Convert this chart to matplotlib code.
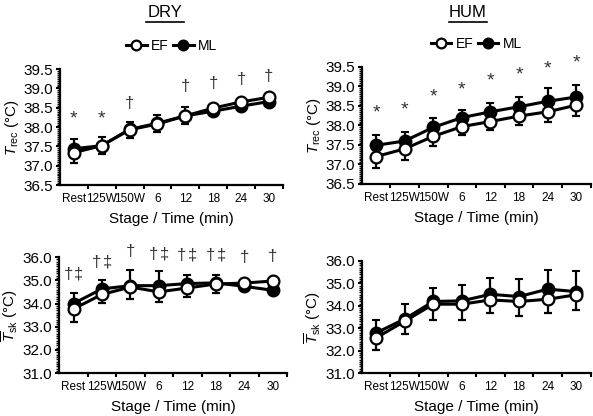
import numpy as np
import matplotlib
matplotlib.use("Agg")
import matplotlib.pyplot as plt
from matplotlib.ticker import MultipleLocator, FixedLocator
from matplotlib.lines import Line2D

plt.rcParams['font.family'] = ['Liberation Sans', 'DejaVu Sans']
plt.rcParams['mathtext.fontset'] = 'custom'
plt.rcParams['mathtext.rm'] = 'Liberation Sans'
plt.rcParams['mathtext.it'] = 'Liberation Sans:italic'

stages = ["Rest", "125W", "150W", "6", "12", "18", "24", "30"]

# rectal temperature, DRY
dry_trec_ef = [37.34, 37.52, 37.93, 38.08, 38.29, 38.49, 38.65, 38.77]
dry_trec_ef_sd = [0.28, 0.22, 0.22, 0.2, 0.2, 0.08, 0.08, 0.08]
dry_trec_ml = [37.44, 37.52, 37.94, 38.1, 38.29, 38.41, 38.54, 38.66]
dry_trec_ml_sd = [0.24, 0.22, 0.2, 0.2, 0.22, 0.1, 0.1, 0.1]

# rectal temperature, HUM
hum_trec_ef = [37.2, 37.4, 37.72, 37.97, 38.1, 38.24, 38.35, 38.52]
hum_trec_ef_sd = [0.3, 0.28, 0.25, 0.22, 0.22, 0.24, 0.25, 0.28]
hum_trec_ml = [37.49, 37.6, 37.95, 38.2, 38.35, 38.48, 38.62, 38.73]
hum_trec_ml_sd = [0.27, 0.23, 0.23, 0.2, 0.23, 0.25, 0.33, 0.3]

# mean skin temperature, DRY
dry_tsk_ef = [33.77, 34.39, 34.71, 34.5, 34.67, 34.84, 34.88, 34.97]
dry_tsk_ef_sd = [0.57, 0.36, 0.5, 0.45, 0.4, 0.4, 0.25, 0.2]
dry_tsk_ml = [34.0, 34.63, 34.77, 34.77, 34.86, 34.89, 34.74, 34.57]
dry_tsk_ml_sd = [0.46, 0.37, 0.69, 0.62, 0.38, 0.35, 0.3, 0.2]

# mean skin temperature, HUM
hum_tsk_ef = [32.57, 33.31, 34.07, 34.07, 34.26, 34.19, 34.29, 34.49]
hum_tsk_ef_sd = [0.54, 0.55, 0.69, 0.69, 0.58, 0.66, 0.61, 0.67]
hum_tsk_ml = [32.79, 33.41, 34.19, 34.22, 34.51, 34.41, 34.74, 34.63]
hum_tsk_ml_sd = [0.59, 0.68, 0.59, 0.71, 0.71, 0.77, 0.85, 0.91]

# significance marks: (stage index, symbols, y)
dry_trec_marks = [(0, "*", 38.22), (1, "*", 38.22), (2, "†", 38.62), (4, "†", 39.05),
                  (5, "†", 39.12), (6, "†", 39.22), (7, "†", 39.32)]
hum_trec_marks = [(0, "*", 38.31), (1, "*", 38.4), (2, "*", 38.74), (3, "*", 38.92),
                  (4, "*", 39.13), (5, "*", 39.29), (6, "*", 39.46), (7, "*", 39.6)]
dry_tsk_marks = [(0, "†‡", 35.25), (1, "†‡", 35.78), (2, "†", 36.22), (3, "†‡", 36.12),
                 (4, "†‡", 36.08), (5, "†‡", 36.08), (6, "†", 35.98), (7, "†", 36.03)]

x = np.arange(len(stages))
mark_col = "#333333"


def draw_panel(ax, ef, ef_sd, ml, ml_sd, ylim, major, minor, ylabel, marks):
    zeros = np.zeros(len(ef))
    ax.errorbar(x, ml, yerr=[zeros, ml_sd], fmt="-o", color="black", mfc="black",
                mec="black", ms=8.5, mew=1.5, lw=2.2, capsize=3, elinewidth=1.6,
                capthick=1.6, zorder=3)
    ax.errorbar(x, ef, yerr=[ef_sd, zeros], fmt="-o", color="black", mfc="white",
                mec="black", ms=8.5, mew=1.6, lw=2.2, capsize=3, elinewidth=1.6,
                capthick=1.6, zorder=4)
    ax.set_xlim(-0.5, 7.5)
    ax.set_ylim(*ylim)
    ax.yaxis.set_major_locator(MultipleLocator(major))
    ax.yaxis.set_minor_locator(MultipleLocator(minor))
    ax.set_yticklabels([f"{v:.1f}" for v in ax.get_yticks()])
    ax.set_xticks(x)
    ax.set_xticklabels(stages)
    ax.xaxis.set_minor_locator(FixedLocator(np.arange(0.5, 8, 1)))
    ax.tick_params(axis="x", which="major", length=0, labelsize=8.5, pad=6)
    ax.tick_params(axis="x", which="minor", length=3, width=1.5)
    ax.tick_params(axis="y", which="major", length=3, width=1.5, labelsize=11, pad=2)
    ax.tick_params(axis="y", which="minor", length=2, width=1)
    for s in ["top", "right"]:
        ax.spines[s].set_visible(False)
    for s in ["left", "bottom"]:
        ax.spines[s].set_linewidth(1.6)
    ax.set_xlabel("Stage / Time (min)", fontsize=11, labelpad=5)
    ax.set_ylabel(ylabel, fontsize=11)
    w_px = ax.get_position().width * fig.get_figwidth() * fig.dpi
    ax.yaxis.set_label_coords(-39.0 / w_px, 0.5)
    for i, sym, yv in marks:
        if len(sym) == 1:
            ax.text(i, yv, sym, ha="center", va="center",
                    fontsize=14 if sym == "*" else 12, color=mark_col, clip_on=False)
        else:
            ax.text(i - 0.19, yv, sym[0], ha="center", va="center", fontsize=12,
                    color=mark_col, clip_on=False)
            ax.text(i + 0.19, yv, sym[1], ha="center", va="center", fontsize=12,
                    color=mark_col, clip_on=False)


fig = plt.figure(figsize=(5.93, 4.16), dpi=100)
ax1 = fig.add_axes([0.101, 0.555, 0.376, 0.279])
ax2 = fig.add_axes([0.610, 0.558, 0.386, 0.281])
ax3 = fig.add_axes([0.100, 0.103, 0.384, 0.279])
ax4 = fig.add_axes([0.610, 0.103, 0.386, 0.270])

trec_label = r"$T_{\mathrm{rec}}$ (°C)"
tsk_label = r"$\overline{T}_{\mathrm{sk}}$ (°C)"

draw_panel(ax1, dry_trec_ef, dry_trec_ef_sd, dry_trec_ml, dry_trec_ml_sd,
           (36.5, 39.5), 0.5, 0.05, trec_label, dry_trec_marks)
draw_panel(ax2, hum_trec_ef, hum_trec_ef_sd, hum_trec_ml, hum_trec_ml_sd,
           (36.5, 39.5), 0.5, 0.05, trec_label, hum_trec_marks)
draw_panel(ax3, dry_tsk_ef, dry_tsk_ef_sd, dry_tsk_ml, dry_tsk_ml_sd,
           (31.0, 36.0), 1.0, 0.1, tsk_label, dry_tsk_marks)
draw_panel(ax4, hum_tsk_ef, hum_tsk_ef_sd, hum_tsk_ml, hum_tsk_ml_sd,
           (31.0, 36.0), 1.0, 0.1, tsk_label, [])

# legends above the top panels
handles = [Line2D([], [], color="black", lw=2.2, marker="o", ms=7, mfc="white", mew=1.6),
           Line2D([], [], color="black", lw=2.2, marker="o", ms=7, mfc="black", mew=1.6)]
for ax in (ax1, ax2):
    ax.legend(handles, ["EF", "ML"], loc="lower center", bbox_to_anchor=(0.5, 1.08),
              ncol=2, frameon=False, fontsize=10, handlelength=1.5,
              handletextpad=0.3, columnspacing=0.3, borderpad=0)

# underlined condition titles
for xc, title in [(0.278, "DRY"), (0.789, "HUM")]:
    fig.text(xc, 0.97, title, ha="center", va="center", fontsize=12)
    fig.add_artist(Line2D([xc - 0.032, xc + 0.032], [0.947, 0.947],
                          transform=fig.transFigure, color="black", lw=1.2))

fig.savefig("out.png", dpi=100)
